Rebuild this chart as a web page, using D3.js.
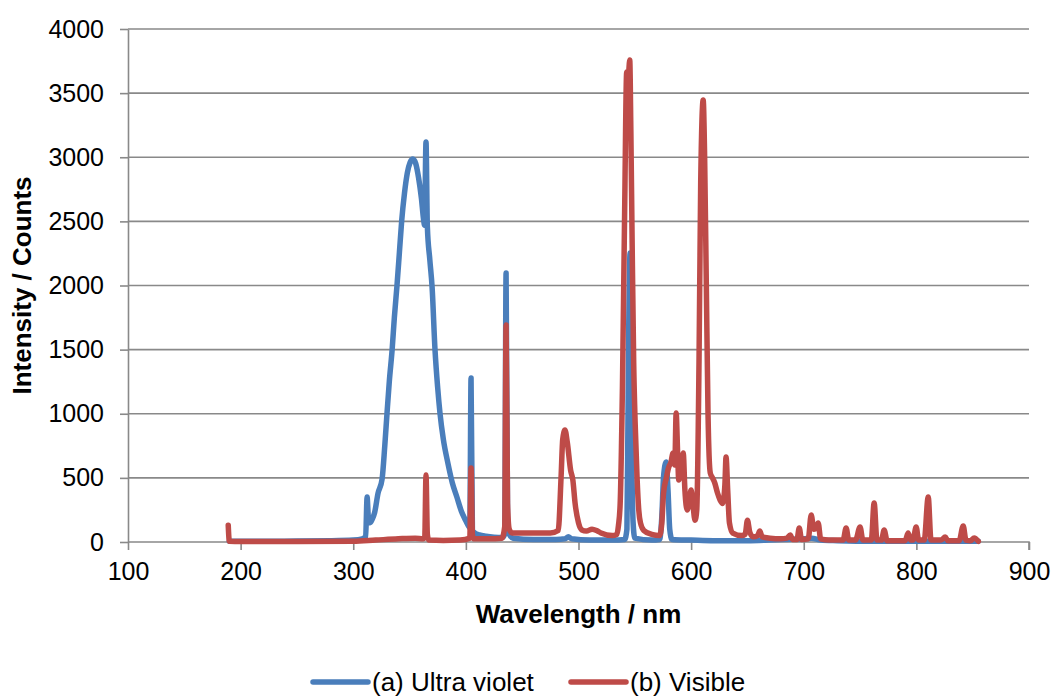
<!DOCTYPE html>
<html>
<head>
<meta charset="utf-8">
<script src="https://cdn.jsdelivr.net/npm/d3@7"></script>
<style>
  body { margin: 0; background: #fff; }
  text { font-family: "Liberation Sans", Arial, sans-serif; fill: #000; }
</style>
</head>
<body>
<svg width="1054" height="697"></svg>
<script>
// (a) ultra violet spectrum
const uvWavelength = [190, 220, 250, 280, 300, 308, 311, 312.3, 313.5, 315, 317, 319, 322, 325.6, 328, 330, 332, 334.5, 336.5, 338.8,
  341, 343, 345.5, 348, 350.5, 353, 355.5, 358, 360.5, 362.5, 363.3, 364.6, 365.8, 368, 370, 372.6, 375, 377, 380, 384,
  388, 392, 396, 399.6, 402, 403.5, 404.6, 405.8, 408, 412, 418, 425, 432, 434.5, 435.7, 437, 438.5, 442, 460, 480,
  488, 491, 494, 510, 530, 541, 543, 544.5, 545.8, 547, 548.5, 550, 565, 572, 574, 575.5, 577.8, 579.5, 581, 583,
  600, 620, 650, 680, 700, 707, 715, 730, 760, 800, 855];
const uvCounts = [5, 5, 8, 10, 15, 25, 40, 350, 180, 150, 180, 230, 380, 490, 750, 1006, 1250, 1497, 1750, 1996,
  2260, 2503, 2720, 2877, 2960, 2986, 2950, 2840, 2680, 2510, 2470, 3119, 2460, 2200, 1988, 1497, 1200, 1006, 800, 616,
  460, 351, 240, 172, 130, 110, 1279, 90, 70, 55, 45, 38, 35, 60, 2097, 200, 60, 30, 20, 20,
  25, 40, 25, 15, 15, 20, 100, 1600, 2253, 900, 150, 30, 15, 20, 200, 507, 624, 400, 100, 20,
  15, 10, 10, 20, 25, 30, 15, 10, 5, 5, 5];

// (b) visible spectrum
const visWavelength = [189, 190, 200, 250, 300, 320, 340, 355, 362, 363.5, 364.6, 365.8, 367, 380, 395, 403.5, 404.6, 405.8, 407, 420,
  432, 434.5, 435.7, 437, 438.5, 441, 460, 475, 482, 484.5, 486, 488, 490, 493, 495, 497, 500, 503, 507, 512,
  516, 520, 530, 534, 535.5, 537, 539, 541, 542.8, 544, 545.5, 546.5, 547.6, 549, 550.3, 552, 553.5, 555, 558, 565,
  572, 574, 575.5, 578, 580, 582, 584, 585.5, 586.7, 588, 589, 591, 593, 594.5, 596.5, 598, 600, 601.5, 603.5, 605,
  607, 608.5, 610.7, 612, 613.5, 615, 617, 619, 621, 623.5, 625.7, 628, 630, 631, 632.5, 634, 637, 645, 648, 650,
  652, 655, 659, 661, 663, 670, 680, 685, 688, 690, 694, 696, 698, 704, 706.6, 709, 711, 712.8, 715, 722,
  735, 737.6, 740, 746, 750, 752.5, 760, 762.5, 765, 769, 771.4, 774, 790, 792.7, 795, 797, 799.8, 802, 807, 810.5,
  813, 822, 825.6, 828, 838, 841.6, 844, 848, 851.3, 855];
const visCounts = [130, 5, 3, 3, 5, 15, 25, 30, 25, 40, 522, 60, 15, 12, 15, 30, 577, 60, 25, 25,
  30, 120, 1692, 300, 100, 70, 70, 70, 90, 500, 800, 873, 780, 560, 483, 300, 150, 94, 85, 100,
  90, 70, 50, 60, 130, 300, 1200, 2600, 3665, 3600, 3758, 3200, 2355, 1400, 928, 500, 250, 150, 90, 60,
  50, 150, 380, 500, 580, 620, 693, 600, 1006, 700, 483, 550, 693, 400, 250, 300, 405, 300, 170, 250,
  1400, 2800, 3446, 3000, 2000, 1000, 538, 500, 460, 380, 327, 300, 450, 663, 400, 150, 70, 50, 60, 170,
  80, 40, 50, 86, 40, 30, 25, 30, 55, 20, 20, 109, 20, 25, 210, 100, 110, 148, 25, 15,
  15, 109, 15, 15, 117, 15, 15, 304, 15, 15, 94, 10, 10, 70, 15, 15, 117, 15, 15, 351,
  15, 15, 39, 10, 10, 125, 15, 10, 31, 5];

const xTicks = [100, 200, 300, 400, 500, 600, 700, 800, 900];
const yTicks = [0, 500, 1000, 1500, 2000, 2500, 3000, 3500, 4000];
const seriesNames = ['(a) Ultra violet', '(b) Visible'];
const seriesColors = ['#4A7EBB', '#BE4B48'];

(function (d3) {
    const svg = d3.select('svg');

    const left = 128, right = 1029, top = 29, bottom = 542;
    const gridColor = '#898989';

    const x = d3.scaleLinear().domain([100, 900]).range([left, right]);
    const y = d3.scaleLinear().domain([0, 4000]).range([bottom, top]);

    // horizontal gridlines
    svg.append('g')
      .selectAll('line')
      .data(yTicks.slice(1))
      .join('line')
        .attr('x1', left)
        .attr('x2', right)
        .attr('y1', d => y(d))
        .attr('y2', d => y(d))
        .attr('stroke', gridColor)
        .attr('stroke-width', 1.6);

    const xAxis = svg.append('g')
        .attr('transform', `translate(0, ${bottom})`)
        .call(d3.axisBottom(x).tickValues(xTicks).tickFormat(d3.format('d'))
            .tickSize(8).tickPadding(12).tickSizeOuter(8));

    const yAxis = svg.append('g')
        .attr('transform', `translate(${left}, 0)`)
        .call(d3.axisLeft(y).tickValues(yTicks).tickFormat(d3.format('d'))
            .tickSize(8).tickPadding(16).tickSizeOuter(0));

    [xAxis, yAxis].forEach(a => {
        a.select('.domain').attr('stroke', gridColor).attr('stroke-width', 1.6);
        a.selectAll('.tick line').attr('stroke', gridColor).attr('stroke-width', 1.6);
        a.selectAll('.tick text')
            .attr('font-family', '"Liberation Sans", Arial, sans-serif')
            .attr('font-size', 25)
            .attr('fill', '#000');
    });
    // no outer tick at the left end of the x axis
    xAxis.select('.domain').attr('d', `M${left},0H${right}V8`);

    const line = d3.line()
        .curve(d3.curveMonotoneX)
        .x(d => x(d[0]))
        .y(d => y(d[1]));

    const series = [
        d3.zip(uvWavelength, uvCounts),
        d3.zip(visWavelength, visCounts)
    ];

    svg.append('g')
      .selectAll('path')
      .data(series)
      .join('path')
        .attr('d', line)
        .attr('fill', 'none')
        .attr('stroke', (d, i) => seriesColors[i])
        .attr('stroke-width', 5.5)
        .attr('stroke-linejoin', 'round')
        .attr('stroke-linecap', 'round');

    // axis titles
    svg.append('text')
        .attr('x', (left + right) / 2)
        .attr('y', 623)
        .attr('text-anchor', 'middle')
        .attr('font-size', 26)
        .attr('font-weight', 'bold')
        .text('Wavelength / nm');

    svg.append('text')
        .attr('transform', `translate(31, ${(top + bottom) / 2}) rotate(-90)`)
        .attr('text-anchor', 'middle')
        .attr('font-size', 26)
        .attr('font-weight', 'bold')
        .text('Intensity / Counts');

    // legend
    const legendX = [313, 571];
    const legend = svg.append('g')
      .selectAll('g')
      .data(seriesNames)
      .join('g')
        .attr('transform', (d, i) => `translate(${legendX[i]}, 682)`);

    legend.append('line')
        .attr('x1', 0)
        .attr('x2', 55)
        .attr('stroke', (d, i) => seriesColors[i])
        .attr('stroke-width', 5.5)
        .attr('stroke-linecap', 'round');

    legend.append('text')
        .attr('x', 59)
        .attr('dy', '0.35em')
        .attr('font-size', 26)
        .text(d => d);
}(d3));
</script>
</body>
</html>
